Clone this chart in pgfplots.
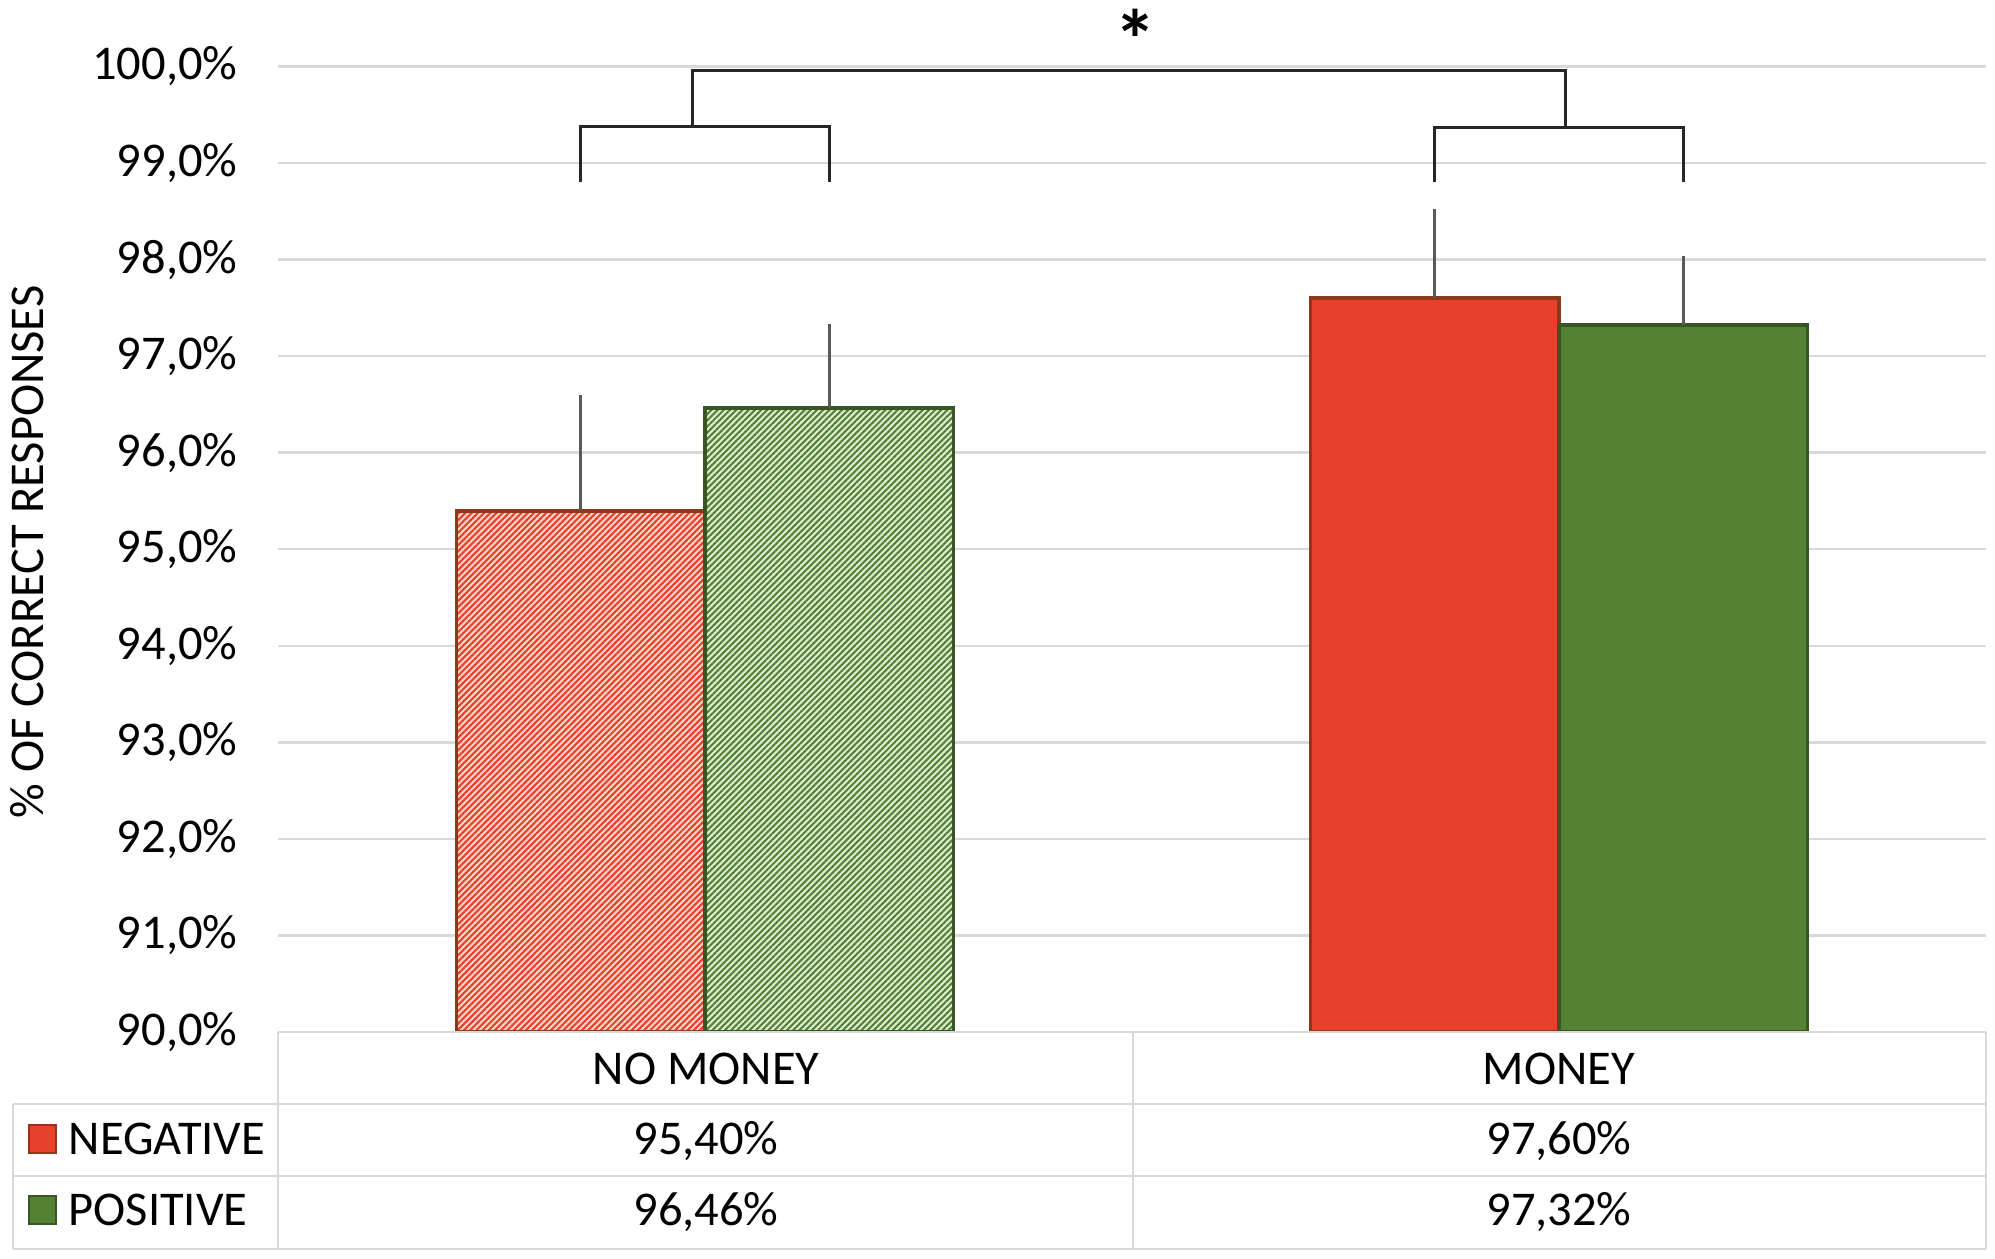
\documentclass[border=0pt]{standalone}
\usepackage{fontspec}
\setmainfont{Carlito}
\usepackage{pgfplots}
\pgfplotsset{compat=1.18}
\usetikzlibrary{patterns.meta}
\definecolor{negc}{HTML}{E8412B}
\definecolor{negb}{HTML}{8A3A18}
\definecolor{posc}{HTML}{548235}
\definecolor{posb}{HTML}{375623}
\definecolor{negl}{HTML}{FAD6CC}
\definecolor{posl}{HTML}{E0EDD6}
\definecolor{gridc}{HTML}{D9D9D9}
\definecolor{errc}{HTML}{595959}
\definecolor{brc}{HTML}{262626}
\newcommand\chf{\fontsize{13.8}{16.5}\selectfont}
\begin{document}
\begin{tikzpicture}
\useasboundingbox (0,0) rectangle (19.95,12.58);
\begin{axis}[
  at={(2.78cm,2.26cm)}, anchor=south west,
  scale only axis, width=17.08cm, height=9.655cm,
  xmin=-0.5, xmax=1.5, ymin=90, ymax=100,
  xtick=\empty, ytick={90,91,...,100},
  yticklabels={{90,0\%},{91,0\%},{92,0\%},{93,0\%},{94,0\%},{95,0\%},{96,0\%},{97,0\%},{98,0\%},{99,0\%},{100,0\%}},
  ymajorgrids, grid style={gridc, line width=0.7pt},
  axis line style={draw=none}, major tick length=0pt,
  yticklabel style={font=\chf, xshift=-8pt},
]
% NEGATIVE, NO MONEY (hatched)
\addplot[ybar, bar width=0.291, bar shift=-0.1455, draw=negb, line width=1.1pt, fill=negl,
  postaction={pattern={Lines[angle=45,distance=1.25pt,line width=0.6pt]}, pattern color=negc}]
  coordinates {(0,95.40)};
% POSITIVE, NO MONEY (hatched)
\addplot[ybar, bar width=0.291, bar shift=0.1455, draw=posb, line width=1.1pt, fill=posl,
  postaction={pattern={Lines[angle=45,distance=1.25pt,line width=0.6pt]}, pattern color=posc}]
  coordinates {(0,96.46)};
% NEGATIVE, MONEY
\addplot[ybar, bar width=0.291, bar shift=-0.1455, draw=negb, line width=1.1pt, fill=negc]
  coordinates {(1,97.60)};
% POSITIVE, MONEY
\addplot[ybar, bar width=0.291, bar shift=0.1455, draw=posb, line width=1.1pt, fill=posc]
  coordinates {(1,97.32)};
% error bars (upper only, no caps)
\addplot[sharp plot, mark=none, color=errc, line width=0.75pt] coordinates {(-0.1455,95.40) (-0.1455,96.60)};
\addplot[sharp plot, mark=none, color=errc, line width=0.75pt] coordinates {(0.1455,96.46) (0.1455,97.33)};
\addplot[sharp plot, mark=none, color=errc, line width=0.75pt] coordinates {(0.8545,97.60) (0.8545,98.52)};
\addplot[sharp plot, mark=none, color=errc, line width=0.75pt] coordinates {(1.1455,97.32) (1.1455,98.04)};
% brackets
\addplot[sharp plot, mark=none, color=brc, line width=0.9pt, line join=miter]
  coordinates {(-0.1455,98.80) (-0.1455,99.38) (0.1455,99.38) (0.1455,98.80)};
\addplot[sharp plot, mark=none, color=brc, line width=0.9pt, line join=miter]
  coordinates {(0.8545,98.80) (0.8545,99.37) (1.1455,99.37) (1.1455,98.80)};
\addplot[sharp plot, mark=none, color=brc, line width=0.9pt, line join=miter]
  coordinates {(-0.015,99.38) (-0.015,99.96) (1.008,99.96) (1.008,99.37)};
\coordinate (st) at (axis cs:0.504,100.28);
\end{axis}
\node[font=\fontsize{24}{26}\selectfont\bfseries, inner sep=0pt] at (st) {*};
% y label
\node[rotate=90, font=\chf] at (0.27,7.06) {\% OF CORRECT RESPONSES};
% table
\begin{scope}[gridc, line width=0.7pt]
\draw (2.78,2.26) -- (19.86,2.26);
\draw (0.13,1.54) -- (19.86,1.54);
\draw (0.13,0.82) -- (19.86,0.82);
\draw (0.13,0.09) -- (19.86,0.09);
\draw (0.13,1.54) -- (0.13,0.09);
\draw (2.78,2.26) -- (2.78,0.09);
\draw (11.33,2.26) -- (11.33,0.09);
\draw (19.86,2.26) -- (19.86,0.09);
\end{scope}
\node[font=\chf] at (7.06,1.89) {NO MONEY};
\node[font=\chf] at (15.59,1.89) {MONEY};
\node[font=\chf] at (7.06,1.17) {95,40\%};
\node[font=\chf] at (15.59,1.17) {97,60\%};
\node[font=\chf] at (7.06,0.46) {96,46\%};
\node[font=\chf] at (15.59,0.46) {97,32\%};
\filldraw[fill=negc, draw=negb, line width=0.8pt] (0.29,1.05) rectangle (0.56,1.33);
\filldraw[fill=posc, draw=posb, line width=0.8pt] (0.29,0.34) rectangle (0.56,0.62);
\node[font=\chf, anchor=west, inner sep=0pt] at (0.68,1.19) {NEGATIVE};
\node[font=\chf, anchor=west, inner sep=0pt] at (0.68,0.48) {POSITIVE};
\end{tikzpicture}
\end{document}
